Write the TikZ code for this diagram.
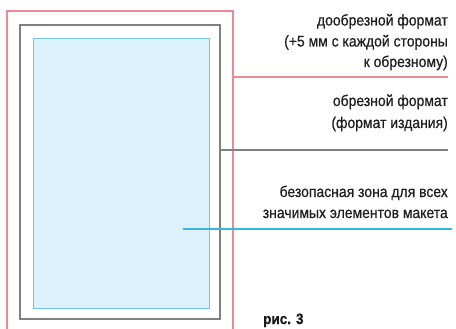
\documentclass[tikz,border=0pt]{standalone}
\usepackage{fontspec}
\setmainfont[FakeStretch=0.9,FakeBold=0.6]{Liberation Sans}
\begin{document}
\begin{tikzpicture}[x=1pt,y=-1pt,
  redl/.style={draw={rgb,255:red,232;green,140;blue,150}, line width=1.2pt},
  greyl/.style={draw=black!50, line width=1.6pt},
  bluel/.style={draw={rgb,255:red,60;green,180;blue,225}, line width=1.1pt},
  lbl/.style={anchor=base east, font=\fontsize{15.5}{20}\selectfont, text=black!88, inner sep=0pt}]
\useasboundingbox (0,0) rectangle (456,329);
\clip (0,0) rectangle (456,329);
\fill[white] (0,0) rectangle (456,329);
% sheets
\path[redl] (7,11) rectangle (233,345);
\path[greyl] (20,25) rectangle (220,319);
\path[bluel, draw={rgb,255:red,110;green,200;blue,230}, line width=0.9pt, fill={rgb,255:red,220;green,241;blue,251}] (33,38) rectangle (209,308);
% leader lines
\coordinate (r1) at (233,77);
\coordinate (r2) at (448,77);
\coordinate (g1) at (220,150);
\coordinate (g2) at (448,150);
\coordinate (b1) at (183,229);
\coordinate (b2) at (452,229);
\draw[redl] (r1) -- (r2);
\draw[greyl, line width=1.1pt] (g1) -- (g2);
\draw[bluel] (b1) -- (b2);
% labels
\node[lbl] (t1a) at (448,25.5) {дообрезной формат};
\node[lbl] (t1b) at (448,46.5) {(+5 мм с каждой стороны};
\node[lbl] (t1c) at (448,67) {к обрезному)};
\node[lbl] (t2a) at (448,106) {обрезной формат};
\node[lbl] (t2b) at (448,128) {(формат издания)};
\node[lbl] (t3a) at (448,197) {безопасная зона для всех};
\node[lbl] (t3b) at (448,218) {значимых элементов макета};
\node[anchor=base west, inner sep=0pt, font=\bfseries\fontsize{15}{17}\selectfont, text=black!90] (fig) at (263,324) {рис. 3};
\end{tikzpicture}
\end{document}
